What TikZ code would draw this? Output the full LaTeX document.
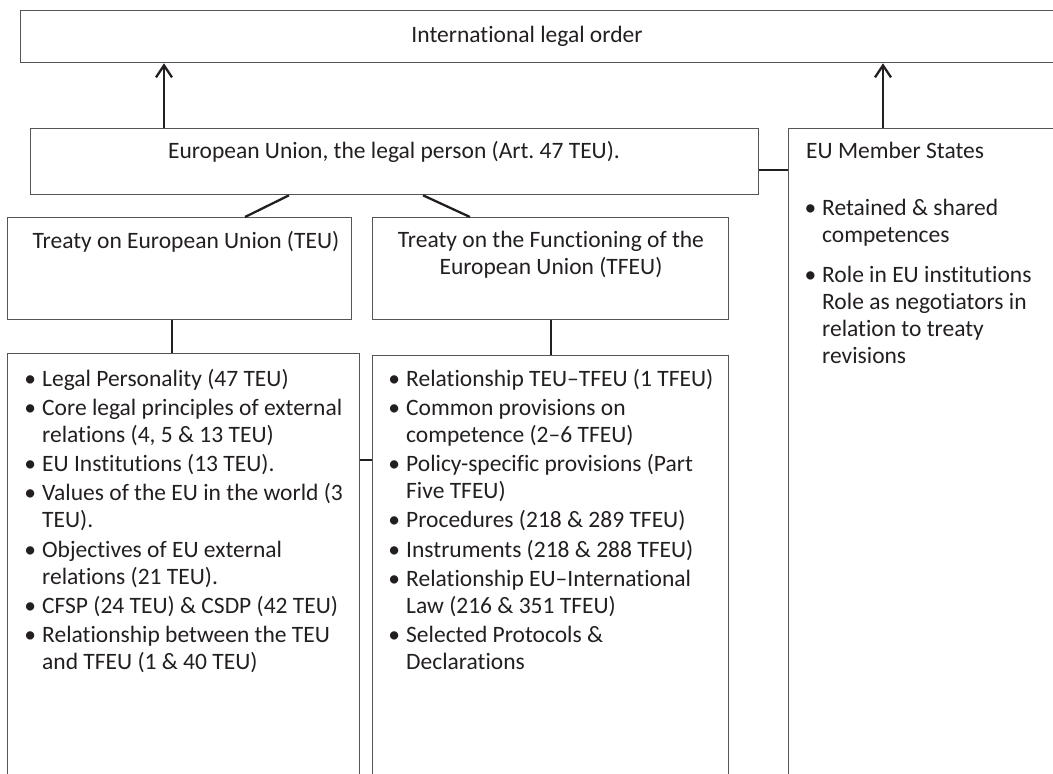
\documentclass[tikz,border=0pt]{standalone}
\usepackage{fontspec}
\setmainfont{Carlito}[Ligatures={TeX,NoCommon}]
\usepackage{tikz}
\usetikzlibrary{arrows.meta,positioning,calc}
\definecolor{ink}{RGB}{35,31,32}
\definecolor{linegray}{RGB}{85,85,85}
\tikzstyle{frame} = [rectangle, draw=linegray, line width=1.3pt, anchor=north west, inner sep=0pt]
\tikzstyle{caption} = [anchor=base, inner sep=0pt, text=ink, align=flush center]
\tikzstyle{heading} = [anchor=base west, inner sep=0pt, text=ink]
\tikzstyle{bullets} = [anchor=base west, inner sep=0pt, text=ink, text width=330pt, align=flush left]
\tikzstyle{link} = [draw=ink, line width=2.3pt]
\newcommand{\bul}{\leavevmode\llap{\textbullet\hspace{6pt}}}

\begin{document}
\begin{tikzpicture}[x=1pt, y=-1pt, font=\fontsize{23.5}{27}\selectfont, >={Straight Barb[length=12pt,width=16pt]}]
			\useasboundingbox (0,0) rectangle (1053,774);
			\clip (0,0) rectangle (1053,774);
			
			\node[frame, minimum width=1100pt, minimum height=52pt] (intl) at (20,10) {};
			\node[frame, minimum width=728pt, minimum height=66pt] (eu) at (30,128) {};
			\node[frame, minimum width=400pt, minimum height=700pt] (ms) at (788,128) {};
			\node[frame, minimum width=344pt, minimum height=102pt] (teu) at (7,217) {};
			\node[frame, minimum width=356pt, minimum height=102pt] (tfeu) at (372,217) {};
			\node[frame, minimum width=352pt, minimum height=500pt] (teulist) at (7,353) {};
			\node[frame, minimum width=356pt, minimum height=500pt] (tfeulist) at (372,355) {};
			
			%texts
			\node[caption] (intltext) at (527,42) {International legal order};
			\node[caption] (eutext) at ([xshift=364pt,yshift=-30pt]eu.north west) {European Union, the legal person (Art.\ 47 TEU).};
			\node[caption] (teutext) at ([xshift=179pt,yshift=-31pt]teu.north west) {Treaty on European Union (TEU)};
			\node[caption, text width=340pt] (tfeutext) at ([xshift=179pt,yshift=-30pt]tfeu.north west) {Treaty on the Functioning of the\\ European Union (TFEU)};
			\node[heading] (mstext) at ([xshift=18pt,yshift=-30pt]ms.north west) {EU Member States};
			
			\node[bullets, text width=240pt] (msitems) at ([xshift=34pt,yshift=-87pt]ms.north west) {\bul Retained \& shared\\ competences\\[13pt]
				\bul Role in EU institutions\\ Role as negotiators in\\ relation to treaty\\ revisions};
			\node[bullets] (teuitems) at ([xshift=35pt,yshift=-33pt]teulist.north west) {\bul Legal Personality (47 TEU)\\[2.3pt]
				\bul Core legal principles of external\\ relations (4, 5 \& 13 TEU)\\[2.3pt]
				\bul EU Institutions (13 TEU).\\[2.3pt]
				\bul Values of the EU in the world (3\\ TEU).\\[2.3pt]
				\bul Objectives of EU external\\ relations (21 TEU).\\[2.3pt]
				\bul CFSP (24 TEU) \& CSDP (42 TEU)\\[2.3pt]
				\bul Relationship between the TEU\\ and TFEU (1 \& 40 TEU)};
			\node[bullets] (tfeuitems) at ([xshift=34pt,yshift=-31pt]tfeulist.north west) {\bul Relationship TEU--TFEU (1 TFEU)\\[2.3pt]
				\bul Common provisions on\\ competence (2--6 TFEU)\\[2.3pt]
				\bul Policy-specific provisions (Part\\ Five TFEU)\\[2.3pt]
				\bul Procedures (218 \& 289 TFEU)\\[2.3pt]
				\bul Instruments (218 \& 288 TFEU)\\[2.3pt]
				\bul Relationship EU--International\\ Law (216 \& 351 TFEU)\\[2.3pt]
				\bul Selected Protocols \&\\ Declarations};
			
			%arrow
			\coordinate (a1) at ([xshift=134pt]eu.north west);
			\coordinate (a2) at ([xshift=95pt]ms.north west);
			\draw [link, ->] (a1) -- (a1 |- intl.south);
			\draw [link, ->] (a2) -- (a2 |- intl.south);
			
			%lines
			\coordinate (m1) at ([yshift=-42pt]eu.north east);
			\draw [link] (m1) -- (m1 -| ms.west);
			\draw [link] ([xshift=259pt]eu.south west) -- ([xshift=238pt]teu.north west);
			\draw [link] ([xshift=393pt]eu.south west) -- ([xshift=98pt]tfeu.north west);
			\coordinate (v1) at ([xshift=165pt]teu.south west);
			\coordinate (v2) at ([xshift=179pt]tfeu.south west);
			\draw [link] (v1) -- (v1 |- teulist.north);
			\draw [link] (v2) -- (v2 |- tfeulist.north);
			\coordinate (h1) at ([yshift=-107pt]teulist.north east);
			\draw [link] (h1) -- (h1 -| tfeulist.west);
			
		\end{tikzpicture}
\end{document}
